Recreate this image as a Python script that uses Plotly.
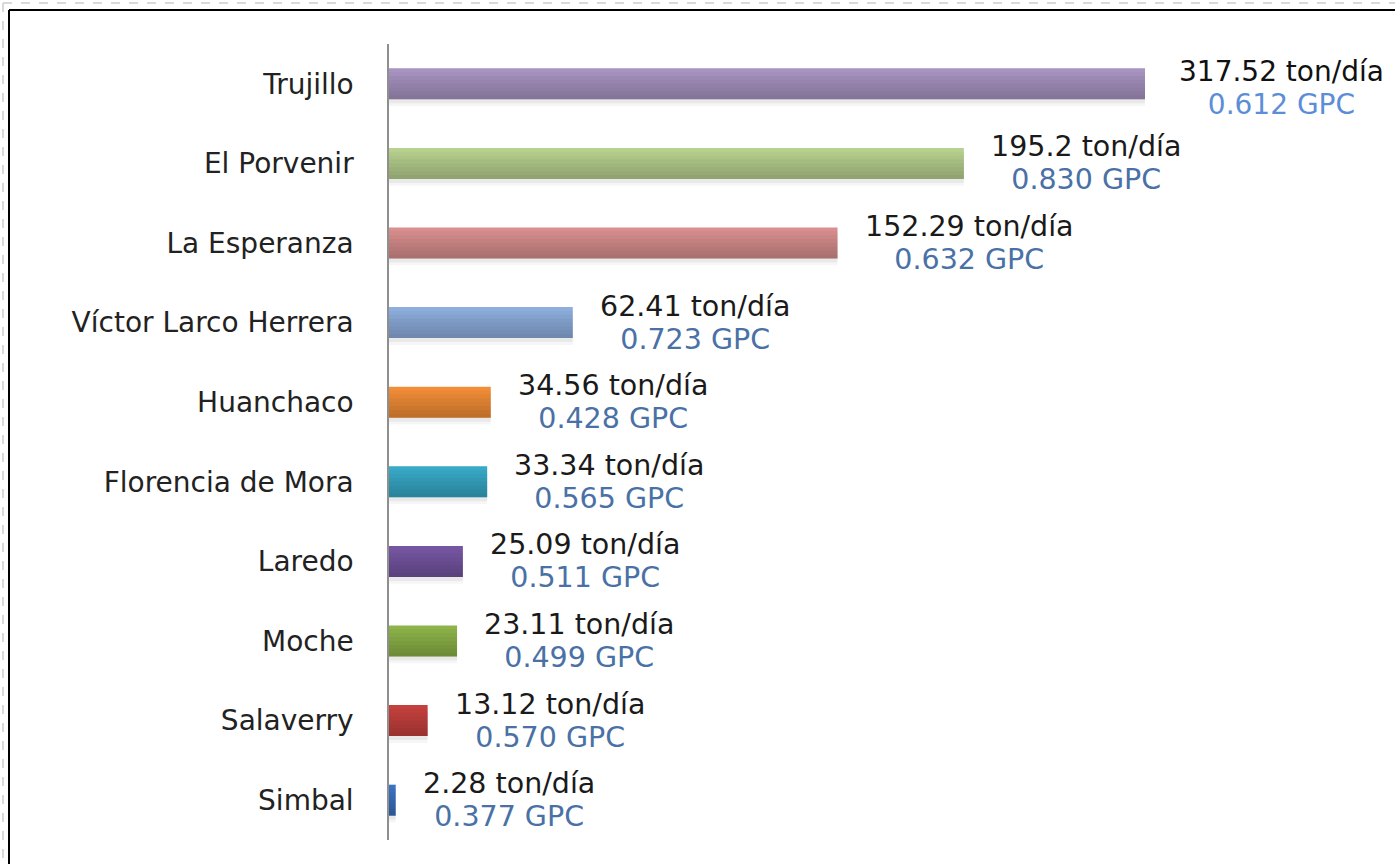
import plotly.graph_objects as go

categories = ["Trujillo", "El Porvenir", "La Esperanza", "Víctor Larco Herrera", "Huanchaco",
              "Florencia de Mora", "Laredo", "Moche", "Salaverry", "Simbal"]
ton_dia = [317.52, 195.2, 152.29, 62.41, 34.56, 33.34, 25.09, 23.11, 13.12, 2.28]
ton_labels = ["317.52", "195.2", "152.29", "62.41", "34.56", "33.34", "25.09", "23.11", "13.12", "2.28"]
gpc = ["0.612", "0.830", "0.632", "0.723", "0.428", "0.565", "0.511", "0.499", "0.570", "0.377"]
bar_colors = ["#A894C2", "#B7D18F", "#D88F8E", "#8EAEDC", "#F28E37",
              "#38A9C6", "#7656A2", "#8DB34A", "#C5403D", "#3B72C2"]

W, H = 1395, 864
L, T = 389, 44          # plot area top-left on screen
PW, PH = 756, 796       # plot area size
XMAX = 256.7  # visible axis end (Trujillo bar is truncated in the original)
BW = 0.39
NB = 8

def px(x):
    return (x - L) / PW

def py(y):
    return (T + PH - y) / PH

fig = go.Figure()
# soft shadow (two faint layers)
for off, alpha in [(0.085, 0.035), (0.05, 0.05)]:
    fig.add_trace(go.Bar(
        y=categories, x=ton_dia, orientation="h",
        marker=dict(color=f"rgba(0,0,0,{alpha})", line=dict(width=0)),
        width=BW, offset=-BW / 2 + off, hoverinfo="skip",
    ))
# base bars
fig.add_trace(go.Bar(
    y=categories, x=ton_dia, orientation="h",
    marker=dict(color=bar_colors, line=dict(width=0)),
    width=BW, offset=-BW / 2, hoverinfo="skip",
))
# vertical gradient (darker towards the bottom)
for k in range(1, NB):
    fig.add_trace(go.Bar(
        y=categories, x=ton_dia, orientation="h",
        marker=dict(color="rgba(0,0,0,0.032)", line=dict(width=0)),
        width=BW * (NB - k) / NB, offset=-BW / 2 + BW * k / NB, hoverinfo="skip",
    ))

annotations = []
for i, c in enumerate(categories):
    if i == 0:
        annotations.append(dict(
            x=XMAX, y=c, xref="x", yref="y", xanchor="left", yanchor="middle",
            xshift=32, yshift=-4, showarrow=False, align="center",
            text=(f"<span style='color:#111111;font-size:28px'>{ton_labels[i]} ton/día</span><br>"
                  f"<span style='color:#5B8ED6;font-size:28px'>{gpc[i]} GPC</span>"),
            font=dict(family="DejaVu Sans", size=25.4, color="#111111"),
        ))
    else:
        annotations.append(dict(
            x=ton_dia[i], y=c, xref="x", yref="y", xanchor="left", yanchor="middle",
            xshift=25, yshift=0, showarrow=False, align="center",
            text=(f"<span style='color:#1a1a1a;font-size:28.5px'>{ton_labels[i]} ton/día</span><br>"
                  f"<span style='color:#4A71A6;font-size:28.5px'>{gpc[i]} GPC</span>"),
            font=dict(family="DejaVu Sans", size=25.4, color="#1a1a1a"),
        ))

shapes = [
    # outer dashed border
    dict(type="line", xref="paper", yref="paper", x0=px(3), x1=px(W + 5), y0=py(3), y1=py(3),
         line=dict(color="#d9d9d9", width=2, dash="dash")),
    dict(type="line", xref="paper", yref="paper", x0=px(3), x1=px(3), y0=py(3), y1=py(H + 5),
         line=dict(color="#d9d9d9", width=2, dash="dash")),
    # black frame
    dict(type="line", xref="paper", yref="paper", x0=px(9), x1=px(W + 5), y0=py(10), y1=py(10),
         line=dict(color="#000000", width=2)),
    dict(type="line", xref="paper", yref="paper", x0=px(9), x1=px(9), y0=py(10), y1=py(H + 5),
         line=dict(color="#000000", width=2)),
]

fig.update_layout(
    width=W, height=H,
    margin=dict(l=L, r=W - L - PW, t=T, b=H - T - PH, autoexpand=False),
    paper_bgcolor="white", plot_bgcolor="white",
    showlegend=False, barmode="overlay",
    annotations=annotations,
    shapes=shapes,
    xaxis=dict(range=[0, XMAX], visible=False, fixedrange=True),
    yaxis=dict(
        categoryorder="array", categoryarray=categories, autorange="reversed",
        showline=True, linecolor="#8f8f8f", linewidth=1.5,
        ticks="", ticklabelstandoff=28, showgrid=False, zeroline=False,
        tickfont=dict(family="DejaVu Sans", size=28, color="#222222"),
    ),
    font=dict(family="DejaVu Sans"),
)

fig.write_html("out.html", config={"displayModeBar": False},
               post_script="document.body.style.margin='0';")
